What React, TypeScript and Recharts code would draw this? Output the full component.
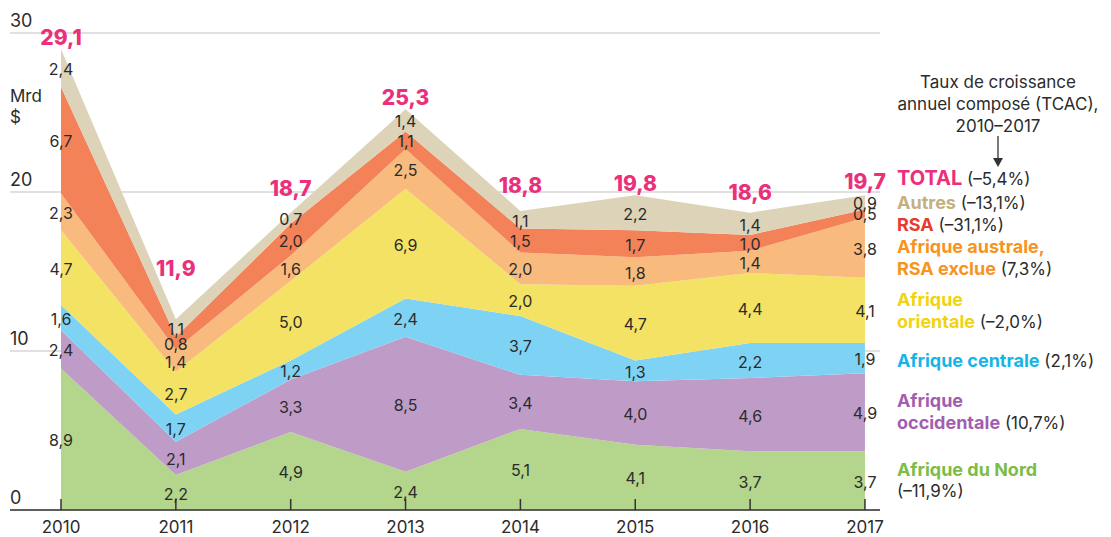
import React from "react";
import {
  ComposedChart, Area, Line, XAxis, YAxis, CartesianGrid, LabelList,
} from "recharts";

// ── Data (Mrd $) ────────────────────────────────────────────────────────────
const YEARS       = [2010, 2011, 2012, 2013, 2014, 2015, 2016, 2017];
const NORD        = [8.9, 2.2, 4.9, 2.4, 5.1, 4.1, 3.7, 3.7];
const OCCIDENTALE = [2.4, 2.1, 3.3, 8.5, 3.4, 4.0, 4.6, 4.9];
const CENTRALE    = [1.6, 1.7, 1.2, 2.4, 3.7, 1.3, 2.2, 1.9];
const ORIENTALE   = [4.7, 2.7, 5.0, 6.9, 2.0, 4.7, 4.4, 4.1];
const AUSTRALE    = [2.3, 1.4, 1.6, 2.5, 2.0, 1.8, 1.4, 3.8];
const RSA         = [6.7, 0.8, 2.0, 1.1, 1.5, 1.7, 1.0, 0.5];
const AUTRES      = [2.4, 1.1, 0.7, 1.4, 1.1, 2.2, 1.4, 0.9];
const TOTALS      = [29.1, 11.9, 18.7, 25.3, 18.8, 19.8, 18.6, 19.7];
const Y_TICKS     = [0, 10, 20, 30];

// ── Style ───────────────────────────────────────────────────────────────────
const FONT = "Inter, 'Noto Sans', sans-serif";
const TEXT = "#2b2b2b";
const PINK = "#ec2f7b";

const SERIES = [
  { key: "nord",        values: NORD,        fill: "#b3d58c" },
  { key: "occidentale", values: OCCIDENTALE, fill: "#bf9cc8" },
  { key: "centrale",    values: CENTRALE,    fill: "#7ed3f5" },
  { key: "orientale",   values: ORIENTALE,   fill: "#f3e263" },
  { key: "australe",    values: AUSTRALE,    fill: "#f8bb7d" },
  { key: "rsa",         values: RSA,         fill: "#f38258" },
  { key: "autres",      values: AUTRES,      fill: "#ddd3b9" },
];

// vertical nudge (px) of the pink total labels above the stack top
const TOTAL_DY = [-11, -51, -24, -12, -26, -12, -20, -14];

const fmt = (v: number) => v.toFixed(1).replace(".", ",");

// rows for recharts: band values + band mid-points (for the value labels)
const DATA = YEARS.map((year, i) => {
  const row: Record<string, number> = { year, total: TOTALS[i] };
  let base = 0;
  SERIES.forEach((s) => {
    const v = s.values[i];
    row[s.key] = v;
    row[`${s.key}Mid`] = base + v / 2;
    base += v;
  });
  row.top = base;
  return row;
});

// ── Ticks ───────────────────────────────────────────────────────────────────
const XTick = (props: any) => {
  const { x, y, payload } = props;
  return (
    <g>
      <line x1={x} x2={x} y1={y} y2={y - 11} stroke="#333" strokeWidth={1.5} />
      <text x={x} y={y + 23} textAnchor="middle" fill={TEXT} fontSize={17} fontFamily={FONT}>
        {payload.value}
      </text>
    </g>
  );
};

const YTick = (props: any) => {
  const { y, payload } = props;
  return (
    <text x={10} y={y - 6} textAnchor="start" fill={TEXT} fontSize={18} fontFamily={FONT}>
      {payload.value}
    </text>
  );
};

const pos = (props: any) => {
  const vb = props.viewBox || {};
  return { x: vb.x ?? props.x, y: vb.y ?? props.y };
};

const ValueLabel = (props: any) => {
  const { x, y } = pos(props);
  if (x == null || y == null) return null;
  return (
    <text x={x} y={y + 1} textAnchor="middle" dominantBaseline="central"
      fill={TEXT} fontSize={16} fontFamily={FONT}>
      {fmt(Number(props.value))}
    </text>
  );
};

const TotalLabel = (props: any) => {
  const { x, y } = pos(props);
  if (x == null || y == null) return null;
  return (
    <text x={x} y={y + TOTAL_DY[props.index]} textAnchor="middle" dominantBaseline="central"
      fill={PINK} fontSize={21} fontWeight={800} fontFamily={FONT}>
      {fmt(Number(props.value))}
    </text>
  );
};

// ── Right-hand legend ───────────────────────────────────────────────────────
const LEGEND: { y: number; name?: string; color?: string; rest?: string; size?: number }[] = [
  { y: 178, name: "TOTAL", color: PINK, rest: " (–5,4%)", size: 20 },
  { y: 203, name: "Autres", color: "#c2b07e", rest: " (–13,1%)" },
  { y: 225, name: "RSA", color: "#e63b2e", rest: " (–31,1%)" },
  { y: 247, name: "Afrique australe,", color: "#f7941e" },
  { y: 269, name: "RSA exclue", color: "#f7941e", rest: " (7,3%)" },
  { y: 300, name: "Afrique", color: "#f2d40c" },
  { y: 322, name: "orientale", color: "#f2d40c", rest: " (–2,0%)" },
  { y: 361, name: "Afrique centrale", color: "#16b5e8", rest: " (2,1%)" },
  { y: 401, name: "Afrique", color: "#a35db0" },
  { y: 423, name: "occidentale", color: "#a35db0", rest: " (10,7%)" },
  { y: 470, name: "Afrique du Nord", color: "#7cbc48" },
  { y: 491, rest: "(–11,9%)" },
];

export default function App() {
  return (
    <div style={{ position: "absolute", left: 0, top: 0, width: 1111, height: 537, background: "#fff", fontFamily: FONT }}>
      <ComposedChart width={1111} height={537} data={DATA}
        margin={{ top: 33, right: 231, bottom: 0, left: 9 }}>
        <CartesianGrid horizontal vertical={false} stroke="#d6d6d6" strokeWidth={1.5} />
        <XAxis
          type="number" dataKey="year" domain={[2009.556, 2017.131]} allowDataOverflow
          ticks={YEARS} interval={0} height={27} tickSize={0} tickMargin={0}
          axisLine={{ stroke: "#333", strokeWidth: 1.5 }} tickLine={false} tick={<XTick />}
        />
        <YAxis
          domain={[0, 30]} ticks={Y_TICKS} interval={0} width={1} tickSize={0} tickMargin={0}
          axisLine={false} tickLine={false} tick={<YTick />}
        />
        {SERIES.map((s) => (
          <Area key={s.key} type="linear" dataKey={s.key} stackId="1"
            fill={s.fill} fillOpacity={1} stroke="none" isAnimationActive={false} />
        ))}
        {SERIES.map((s) => (
          <Line key={`${s.key}-lbl`} type="linear" dataKey={`${s.key}Mid`}
            stroke="none" dot={false} activeDot={false} isAnimationActive={false}>
            <LabelList dataKey={s.key} content={<ValueLabel />} />
          </Line>
        ))}
        <Line type="linear" dataKey="top" stroke="none" dot={false} activeDot={false} isAnimationActive={false}>
          <LabelList dataKey="total" content={<TotalLabel />} />
        </Line>
      </ComposedChart>

      {/* unit */}
      <div style={{ position: "absolute", left: 10, top: 86, fontSize: 17, lineHeight: "21px", color: TEXT }}>
        Mrd<br />$
      </div>

      {/* CAGR heading + arrow */}
      <div style={{
        position: "absolute", left: 878, top: 71, width: 240, textAlign: "center",
        fontSize: 17, lineHeight: "22px", color: TEXT,
      }}>
        Taux de croissance<br />annuel composé (TCAC),<br />2010–2017
      </div>
      <svg style={{ position: "absolute", left: 0, top: 0 }} width={1111} height={537}>
        <line x1={998} x2={998} y1={136} y2={160} stroke="#333" strokeWidth={1.3} />
        <polygon points="993,158 1003,158 998,167" fill="#333" />
      </svg>

      {LEGEND.map((l, i) => (
        <div key={i} style={{
          position: "absolute", left: 897, top: l.y - 12, whiteSpace: "nowrap",
          lineHeight: "24px", fontSize: 17, color: TEXT,
        }}>
          {l.name && (
            <span style={{ color: l.color, fontWeight: 700, fontSize: l.size ?? 18 }}>{l.name}</span>
          )}
          {l.rest}
        </div>
      ))}
    </div>
  );
}
